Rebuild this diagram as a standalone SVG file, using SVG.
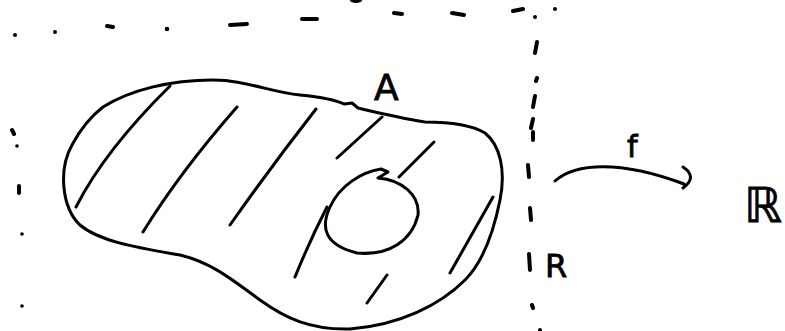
<svg xmlns="http://www.w3.org/2000/svg" width="785" height="331" viewBox="0 0 785 331">
<style>
.s{fill:none;stroke:#000;stroke-width:3;stroke-linecap:round;stroke-linejoin:round}
.d{fill:none;stroke:#000;stroke-width:4;stroke-linecap:round}
.dt{fill:#000}
.t{font-family:"DejaVu Sans","Liberation Sans",sans-serif;fill:#000;stroke:#000;stroke-width:0.8}
</style>
<rect width="785" height="331" fill="#fff"/>
<g id="boundary">
<path class="d" d="M107,26 L113,27 M230,25 L247,24 M302,19 L317,19 M394,13 L402,14 M452,13 L464,15 M513,11 L523,9 M537,42 L535,53 M537,78 L536,81 M535,96 L533,107 M533,119 L531,128 M533,132 L533,140 M528,165 L529,177 M530,208 L531,220 M529,254 L530,270 M532,305 L533,308 M12,130 L14,134 M19,186 L19,193"/>
<circle class="dt" cx="15" cy="35" r="2"/>
<circle class="dt" cx="55" cy="32" r="2"/>
<circle class="dt" cx="167" cy="29" r="2.3"/>
<circle class="dt" cx="535" cy="17" r="2"/>
<circle class="dt" cx="555" cy="9" r="2"/>
<circle class="dt" cx="17" cy="146" r="1.8"/>
<circle class="dt" cx="22" cy="234" r="1.8"/>
<circle class="dt" cx="22" cy="306" r="1.8"/>
<circle class="dt" cx="540" cy="330" r="2"/>
<path class="d" d="M352,0 Q356,2 360,0"/>
</g>
<g id="setA">
<path class="s" d="M103,107 C130,90 170,80 213,80 C245,80 270,92 300,95 C320,97 336,100 344,104 L352,103 L358,108 C375,112 400,118 425,122 C445,122 470,124 485,133 C500,145 506,170 500,200 C495,225 485,260 465,280 C440,305 400,325 350,329 C310,330 285,318 260,300 C230,278 210,262 180,255 C140,248 100,242 80,225 C62,208 58,170 72,145 C80,130 90,117 103,107 Z"/>
<path class="s" d="M76,207 Q105,150 170,86 M143,232 Q180,172 237,107 M230,225 Q270,168 316,109 M337,158 L382,117 M399,177 L434,142 M295,277 Q310,240 327,207 M367,303 L387,275 M450,273 L493,197"/>
<path class="s" d="M378,178 L388,172 L381,169 C362,172 340,185 330,207 C320,228 325,245 357,253 C390,256 412,240 418,215 C420,195 402,180 378,178"/>
<text class="t" x="374" y="100" font-size="36">A</text>
</g>
<g id="connectors">
<path class="s" d="M555,181 C575,163 620,160 684,184 M683,167 Q698,177 683,188"/>
<text class="t" x="627" y="157" font-size="30">f</text>
</g>
<text class="t" x="545" y="277" font-size="32">R</text>
<g id="reals">
<text class="t" x="744" y="222" font-size="48">ℝ</text>
</g>
</svg>
